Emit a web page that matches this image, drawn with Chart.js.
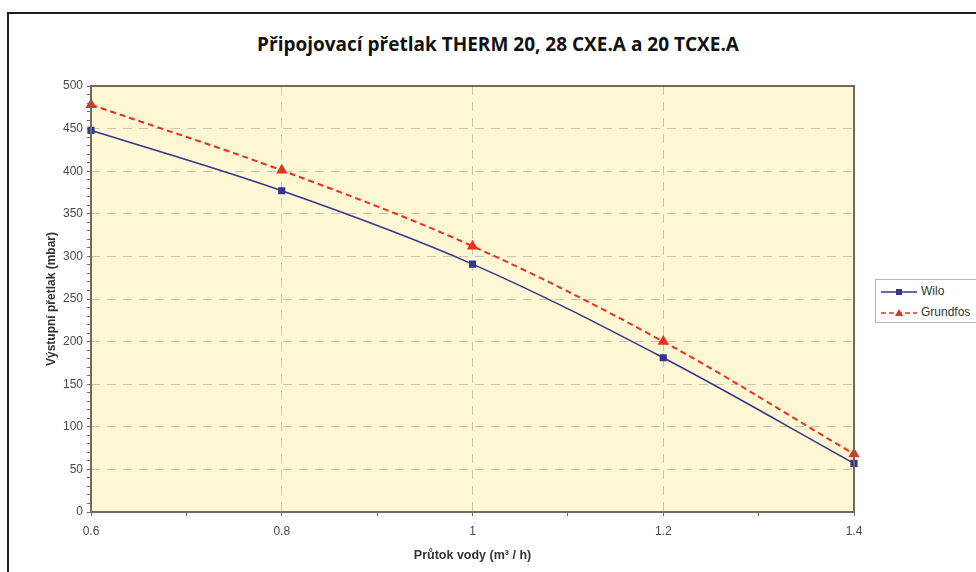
<!DOCTYPE html>
<html>
<head>
<meta charset="utf-8">
<script src="https://cdn.jsdelivr.net/npm/chart.js@4/dist/chart.umd.min.js"></script>
<style>
  html, body { margin: 0; padding: 0; background: #fff; }
  #wrap { position: relative; width: 976px; height: 572px; overflow: hidden; }
  #frame {
    position: absolute; left: 7px; top: 12px; width: 1000px; height: 600px;
    border-top: 2px solid #1e1e1e; border-left: 2px solid #1e1e1e;
  }
  #title {
    position: absolute; left: 0; top: 31px; width: 996px; text-align: center;
    font: 700 19px "Open Sans", sans-serif; color: #111; letter-spacing: 0;
  }
  #legend {
    position: absolute; left: 875px; top: 279px; width: 120px; height: 42px;
    border: 1px solid #b8b8b8; background: #fff;
    font: 12px "Liberation Sans", Arial, sans-serif; color: #333;
  }
  #legend div { position: absolute; left: 4px; height: 14px; line-height: 14px; }
  #legend svg { vertical-align: middle; margin-right: 3px; }
  canvas { position: absolute; left: 0; top: 0; }
</style>
</head>
<body>
<div id="wrap">
  <div id="frame"></div>
  <div id="title">Připojovací přetlak THERM 20, 28 CXE.A a 20 TCXE.A</div>
  <canvas id="chart" width="976" height="572"></canvas>
  <div id="legend">
    <div style="top:4px">
      <svg width="38" height="10"><line x1="1" y1="5" x2="37" y2="5" stroke="#33368f" stroke-width="1.5"/><rect x="16" y="2" width="6" height="6" fill="#33368f"/></svg>Wilo
    </div>
    <div style="top:25px">
      <svg width="38" height="10"><line x1="1" y1="5" x2="37" y2="5" stroke="#e8301f" stroke-width="1.5" stroke-dasharray="5,3"/><polygon points="19,1 23,8 15,8" fill="#e8301f"/></svg>Grundfos
    </div>
  </div>
</div>
<script>
const flow = [0.6, 0.8, 1.0, 1.2, 1.4];
const wilo = [448, 377, 291, 181, 57];
const grundfos = [478, 401, 312, 200, 68];

const plotBg = '#fdf7d3';
const gridColor = '#cbc6b2';
const axisColor = '#75675c';

// fills the plot area and frames it like the original
const plotFrame = {
  id: 'plotFrame',
  beforeDraw(chart) {
    const { ctx, chartArea: a } = chart;
    ctx.save();
    ctx.fillStyle = plotBg;
    ctx.fillRect(a.left, a.top, a.right - a.left, a.bottom - a.top);
    ctx.restore();
  },
  afterDatasetsDraw(chart) {
    const { ctx, chartArea: a } = chart;
    ctx.save();
    ctx.strokeStyle = axisColor;
    ctx.lineWidth = 2;
    ctx.strokeRect(a.left, a.top, a.right - a.left, a.bottom - a.top);
    ctx.restore();
  }
};

const toPoints = (ys) => ys.map((y, i) => ({ x: flow[i], y }));
const isMajorX = (v) => Math.round(v * 10) % 2 === 0;
const isMajorY = (v) => Math.round(v) % 50 === 0;

Chart.defaults.font.family = '"Liberation Sans", Arial, sans-serif';
Chart.defaults.font.size = 12;
Chart.defaults.color = '#4a4a4a';

new Chart(document.getElementById('chart'), {
  type: 'line',
  data: {
    datasets: [
      {
        label: 'Wilo',
        data: toPoints(wilo),
        borderColor: '#33368f',
        backgroundColor: '#33368f',
        borderWidth: 1.5,
        pointStyle: 'rect',
        pointRadius: 4,
        tension: 0.35,
        order: 2
      },
      {
        label: 'Grundfos',
        data: toPoints(grundfos),
        borderColor: '#e8301f',
        backgroundColor: '#e8301f',
        borderWidth: 2,
        borderDash: [6, 4],
        pointStyle: 'triangle',
        pointRadius: 4.5,
        tension: 0.35,
        order: 1
      }
    ]
  },
  options: {
    responsive: false,
    animation: false,
    clip: false,
    layout: { padding: { left: 0, right: 122, top: 86, bottom: 0 } },
    plugins: {
      legend: { display: false },
      title: { display: false },
      tooltip: { enabled: false }
    },
    scales: {
      x: {
        type: 'linear',
        min: 0.6,
        max: 1.4,
        afterFit(scale) { scale.height = 60; },
        ticks: {
          stepSize: 0.1,
          autoSkip: false,
          maxRotation: 0,
          padding: 8,
          callback: (v) => isMajorX(v) ? String(Math.round(v * 10) / 10) : ''
        },
        grid: {
          color: (c) => c.tick && isMajorX(c.tick.value) ? gridColor : 'transparent',
          tickColor: axisColor,
          tickLength: 4,
          lineWidth: 1
        },
        border: { display: false, dash: [9, 7] },
        title: {
          display: true,
          text: 'Průtok vody (m³ / h)',
          font: { weight: 'bold', size: 12.5 },
          color: '#333',
          padding: { bottom: 9 }
        }
      },
      y: {
        min: 0,
        max: 500,
        afterFit(scale) { scale.width = 91; },
        ticks: {
          stepSize: 10,
          autoSkip: false,
          padding: 4,
          callback: (v) => isMajorY(v) ? String(v) : ''
        },
        grid: {
          color: (c) => c.tick && isMajorY(c.tick.value) ? gridColor : 'transparent',
          tickColor: axisColor,
          tickLength: 4,
          lineWidth: 1
        },
        border: { display: false, dash: [9, 7] },
        title: {
          display: true,
          text: 'Výstupní přetlak (mbar)',
          font: { weight: 'bold', size: 12 },
          color: '#333',
          padding: { top: 44 }
        }
      }
    }
  },
  plugins: [plotFrame]
});
</script>
</body>
</html>
